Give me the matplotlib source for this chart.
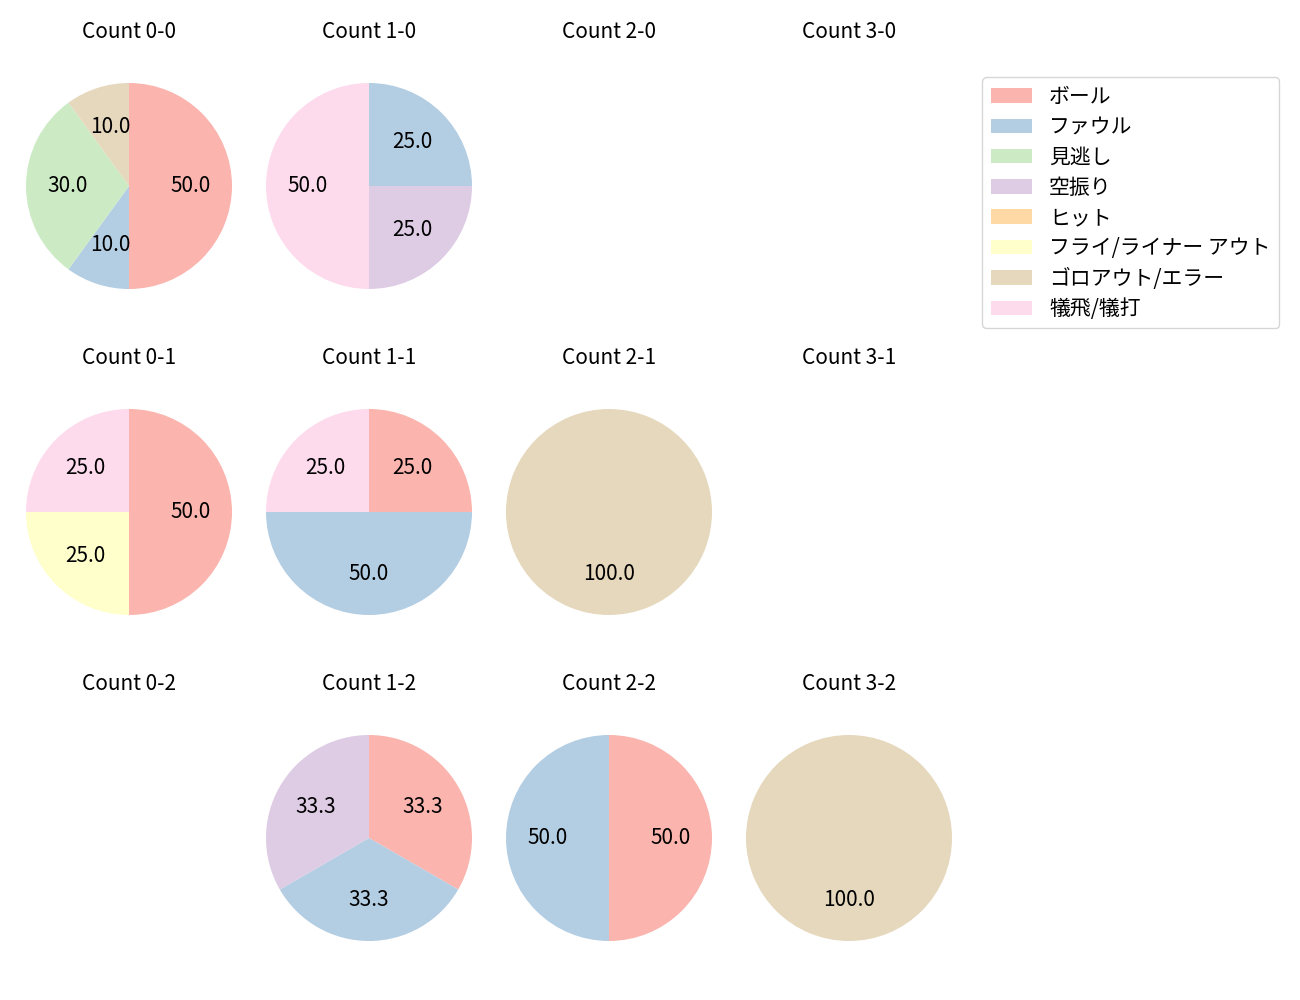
import numpy as np
import matplotlib
matplotlib.use("Agg")
import matplotlib.pyplot as plt
from matplotlib.patches import Patch

plt.rcParams['font.family'] = ['Noto Sans CJK JP', 'DejaVu Sans']
plt.rcParams['font.size'] = 15

# =============================================================================
# Data
# =============================================================================
labels = ["ボール", "ファウル", "見逃し", "空振り", "ヒット",
          "フライ/ライナー アウト", "ゴロアウト/エラー", "犠飛/犠打"]
colors = ["#fbb4ae", "#b3cde3", "#ccebc5", "#decbe4", "#fed9a6",
          "#ffffcc", "#e5d8bd", "#fddaec"]

balls = [0, 1, 2, 3]
strikes = [0, 1, 2]

# counts per result, same order as labels
c_0_0 = [5, 1, 3, 0, 0, 0, 1, 0]
c_1_0 = [0, 1, 0, 1, 0, 0, 0, 2]
c_2_0 = [0, 0, 0, 0, 0, 0, 0, 0]
c_3_0 = [0, 0, 0, 0, 0, 0, 0, 0]
c_0_1 = [2, 0, 0, 0, 0, 1, 0, 1]
c_1_1 = [1, 2, 0, 0, 0, 0, 0, 1]
c_2_1 = [0, 0, 0, 0, 0, 0, 1, 0]
c_3_1 = [0, 0, 0, 0, 0, 0, 0, 0]
c_0_2 = [0, 0, 0, 0, 0, 0, 0, 0]
c_1_2 = [1, 1, 0, 1, 0, 0, 0, 0]
c_2_2 = [1, 1, 0, 0, 0, 0, 0, 0]
c_3_2 = [0, 0, 0, 0, 0, 0, 1, 0]

data = {(0, 0): c_0_0, (1, 0): c_1_0, (2, 0): c_2_0, (3, 0): c_3_0,
        (0, 1): c_0_1, (1, 1): c_1_1, (2, 1): c_2_1, (3, 1): c_3_1,
        (0, 2): c_0_2, (1, 2): c_1_2, (2, 2): c_2_2, (3, 2): c_3_2}

# =============================================================================
# Graph
# =============================================================================
fig = plt.figure(figsize=(13, 10), dpi=100)
W, H = 1300.0, 1000.0
half = 128.75  # pie radius 103 px -> axes half size
xc = [129, 369, 609, 849]
yc = [186, 512, 838]

for s in strikes:
    for b in balls:
        ax = fig.add_axes([(xc[b] - half) / W, 1 - (yc[s] + half) / H,
                           2 * half / W, 2 * half / H])
        vals = np.array(data[(b, s)], dtype=float)
        mask = vals > 0
        if mask.any():
            ax.pie(vals[mask], colors=[c for c, m in zip(colors, mask) if m],
                   autopct="%.1f", startangle=90, counterclock=False)
        ax.set_xlim(-1.25, 1.25)
        ax.set_ylim(-1.25, 1.25)
        ax.set_aspect("equal")
        ax.axis("off")
        ax.set_title("Count %d-%d" % (b, s), fontsize=15, pad=14)

handles = [Patch(facecolor=c) for c in colors]
fig.legend(handles, labels, loc="upper left", labelspacing=0.4,
           bbox_to_anchor=(972 / W, 1 - 67 / H))

plt.savefig("out.png", dpi=100)
